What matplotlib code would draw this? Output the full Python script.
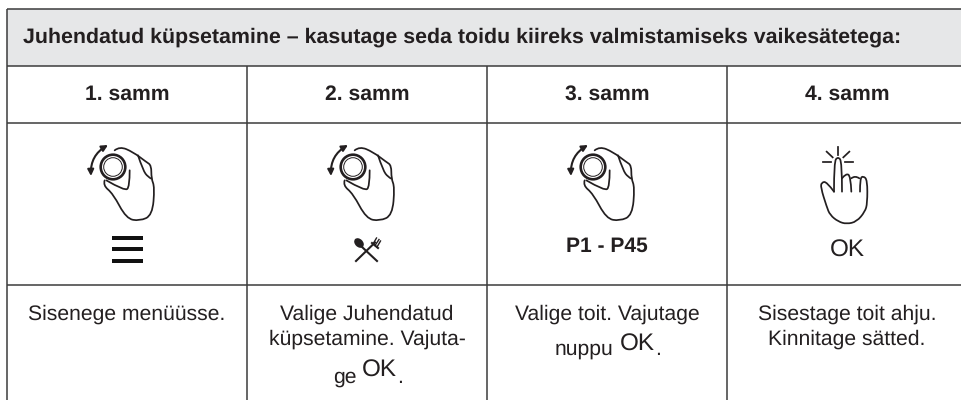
import matplotlib
matplotlib.use('Agg')
import matplotlib.pyplot as plt
from matplotlib.path import Path
from matplotlib.patches import PathPatch, Circle, Ellipse, Rectangle, FancyArrowPatch

plt.rcParams['font.family'] = ['Liberation Sans', 'DejaVu Sans']
plt.rcParams['text.hinting'] = 'no_hinting'

TEXT = '#231f20'
LINE = '#3c3c3c'
BODY = 15.2
OK_SIZE = 17.5

title = 'Juhendatud küpsetamine – kasutage seda toidu kiireks valmistamiseks vaikesätetega:'
steps = ['1. samm', '2. samm', '3. samm', '4. samm']
row3_col1 = ['Sisenege menüüsse.']
row3_col2 = ['Valige Juhendatud', 'küpsetamine. Vajuta-']
row3_col3 = ['Valige toit. Vajutage']
row3_col4 = ['Sisestage toit ahju.', 'Kinnitage sätted.']

col_edges = [7, 247, 487, 727]
row_edges = [9, 66, 123, 285]
col_centers = [127, 367, 607, 847]

# ikoonide kontuurid (zoomitud pildi pikslid, suhtes nupu keskpunkti)
hand_outline = [(5, -50), (20, -62), (60, -45), (100, -15), (115, -5), (115, 35), (125, 60),
                (118, 145), (80, 162), (40, 155), (0, 80), (-30, 55), (-25, 40)]
hand_thumb = [(-20, 40), (35, 72), (50, 60), (50, 10)]
hand_finger = [(75, -35), (90, 10), (105, 30), (115, 35)]

press_outline = [(1062, 275), (1040, 245), (1025, 247), (1022, 262), (1040, 320), (1050, 345),
                 (1075, 365), (1100, 372), (1130, 365), (1155, 335), (1162, 310), (1162, 240),
                 (1150, 228), (1140, 235), (1140, 275)]
press_finger = [(1062, 275), (1062, 185), (1074, 170), (1086, 185), (1086, 275)]
press_middle = [(1086, 235), (1098, 220), (1112, 228), (1114, 275)]
press_ring = [(1114, 235), (1125, 226), (1138, 235)]
press_rays = [((1074, 140), (1074, 165)), ((1040, 155), (1058, 172)), ((1108, 155), (1090, 172)),
              ((1028, 187), (1052, 187)), ((1096, 187), (1120, 187))]


def smooth(points):
    # ruutkõverad punktide vahel, et käsi ei oleks nurgeline
    verts = [points[0]]
    codes = [Path.MOVETO]
    for i in range(1, len(points) - 1):
        mid = ((points[i][0] + points[i + 1][0]) / 2, (points[i][1] + points[i + 1][1]) / 2)
        if i == len(points) - 2:
            mid = points[-1]
        verts += [points[i], mid]
        codes += [Path.CURVE3, Path.CURVE3]
    return Path(verts, codes)


def draw_curve(ax, points, lw=1.25):
    ax.add_patch(PathPatch(smooth(points), fc='none', ec=TEXT, lw=lw, capstyle='round'))


def draw_knob_hand(ax, cx, cy):
    to_px = lambda pts: [(cx + x / 3, cy + y / 3) for x, y in pts]
    draw_curve(ax, to_px(hand_outline))
    draw_curve(ax, to_px(hand_thumb))
    draw_curve(ax, to_px(hand_finger))
    ax.add_patch(Circle((cx, cy), 12.3, fc='white', ec=TEXT, lw=1.9, zorder=3))
    ax.add_patch(Circle((cx, cy), 9.3, fc='white', ec=TEXT, lw=0.7, zorder=3))
    ax.add_patch(FancyArrowPatch((cx - 22, cy + 9), (cx - 5, cy - 22), connectionstyle='arc3,rad=-0.3',
                                 arrowstyle='<|-|>', mutation_scale=9, lw=1.5, color=TEXT,
                                 shrinkA=0, shrinkB=0))


fig = plt.figure(figsize=(9.61, 4.0), dpi=100)
ax = fig.add_axes([0, 0, 1, 1])
ax.set_xlim(0, 961)
ax.set_ylim(400, 0)
ax.axis('off')

# tabel
ax.add_patch(Rectangle((7, 9), 960, 57, fc='#e6e7e8', ec='none'))
ax.hlines(row_edges, 7, 961, color=LINE, lw=1.1)
ax.vlines(7, 9, 400, color=LINE, lw=1.1)
ax.vlines(col_edges[1:], 66, 400, color=LINE, lw=1.1)

ax.text(23, 43, title, fontsize=15.4, fontweight='bold', color=TEXT, va='baseline')
for x, s in zip(col_centers, steps):
    ax.text(x, 100, s, fontsize=15.2, fontweight='bold', color=TEXT, ha='center', va='baseline')

# ikoonid
for x in col_centers[:3]:
    draw_knob_hand(ax, x - 14, 167)

for y in (236, 247, 259):
    ax.add_patch(Rectangle((112, y), 31, 4, fc='#111111', ec='none'))

ax.plot([356, 375], [261, 242.5], color=TEXT, lw=1.5)
ax.plot([377, 361.5], [261, 246.5], color=TEXT, lw=1.5)
ax.add_patch(Ellipse((359, 243), 11, 8, angle=45, fc=TEXT, ec='none'))
for (x0, y0), (x1, y1) in [((373, 244), (376.5, 238)), ((375, 245.5), (379, 239.5)), ((377, 247), (380.5, 241))]:
    ax.plot([x0, x1], [y0, y1], color=TEXT, lw=1.0)
ax.plot([372, 378], [243, 248], color=TEXT, lw=1.5)

ax.text(607, 252, 'P1 - P45', fontsize=15.1, fontweight='bold', color=TEXT, ha='center', va='baseline')

to_px = lambda pts: [(480 + x / 3, 100 + y / 3) for x, y in pts]
draw_curve(ax, to_px(press_outline))
draw_curve(ax, to_px(press_finger))
draw_curve(ax, to_px(press_middle))
draw_curve(ax, to_px(press_ring))
for a, b in press_rays:
    (x0, y0), (x1, y1) = to_px([a, b])
    ax.plot([x0, x1], [y0, y1], color=TEXT, lw=1.25)
ax.text(847, 257, 'OK', fontsize=OK_SIZE, color=TEXT, ha='center', va='baseline')

# alumine rida
ax.text(127, 320, row3_col1[0], fontsize=BODY, color=TEXT, ha='center', va='baseline')
for y, s in zip((320, 345), row3_col2):
    ax.text(367, y, s, fontsize=BODY, color=TEXT, ha='center', va='baseline')
ax.text(333, 383, 'ge', fontsize=BODY, color=TEXT, va='baseline')
ax.text(362, 377, 'OK', fontsize=OK_SIZE, color=TEXT, va='baseline')
ax.text(397, 383, '.', fontsize=BODY, color=TEXT, va='baseline')

ax.text(607, 320, row3_col3[0], fontsize=BODY, color=TEXT, ha='center', va='baseline')
ax.text(555, 355, 'nuppu', fontsize=BODY, color=TEXT, va='baseline')
ax.text(619.5, 351, 'OK', fontsize=OK_SIZE, color=TEXT, va='baseline')
ax.text(655, 355, '.', fontsize=BODY, color=TEXT, va='baseline')

for y, s in zip((320, 345), row3_col4):
    ax.text(847, y, s, fontsize=BODY, color=TEXT, ha='center', va='baseline')

fig.savefig('out.png', dpi=100)
